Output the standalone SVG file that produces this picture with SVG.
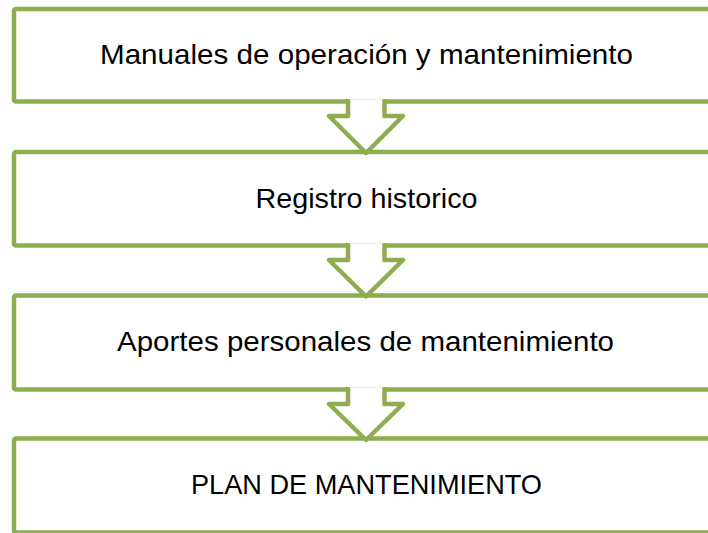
<svg xmlns="http://www.w3.org/2000/svg" width="708" height="533" viewBox="0 0 708 533">
<style>
.box{fill:#ffffff;stroke:#8eac50;stroke-width:4.5}
.arr{fill:#ffffff;stroke:#8eac50;stroke-width:4.5;stroke-linejoin:round}
.lbl{font-family:"Liberation Sans",Arial,sans-serif;font-size:28px;fill:#000000;text-anchor:middle}
</style>
<rect width="708" height="533" fill="#ffffff"/>
<g id="node1">
<rect class="box" x="14" y="9" width="710" height="92.5" rx="2"/>
<text class="lbl" x="366.5" y="63.5" textLength="533" lengthAdjust="spacingAndGlyphs">Manuales de operación y mantenimiento</text>
</g>
<g id="node2">
<rect class="box" x="14" y="152" width="710" height="93.5" rx="2"/>
<text class="lbl" x="366.5" y="207.5" textLength="222" lengthAdjust="spacingAndGlyphs">Registro historico</text>
</g>
<g id="node3">
<rect class="box" x="14" y="295.5" width="710" height="94" rx="2"/>
<text class="lbl" x="365.5" y="350.5" textLength="497" lengthAdjust="spacingAndGlyphs">Aportes personales de mantenimiento</text>
</g>
<g id="node4">
<rect class="box" x="14" y="438.5" width="710" height="94" rx="2"/>
<text class="lbl" x="366.5" y="494" textLength="351" lengthAdjust="spacingAndGlyphs">PLAN DE MANTENIMIENTO</text>
</g>
<g id="connectors">
<path class="arr" d="M348,99.2 V116 H329 L366,153 L403,116 H384.5 V99.2"/>
<path class="arr" d="M348,243.2 V260 H329 L366,296.5 L403,260 H384.5 V243.2"/>
<path class="arr" d="M348,387.2 V404 H329 L366,440 L403,404 H384.5 V387.2"/>
</g>
</svg>
